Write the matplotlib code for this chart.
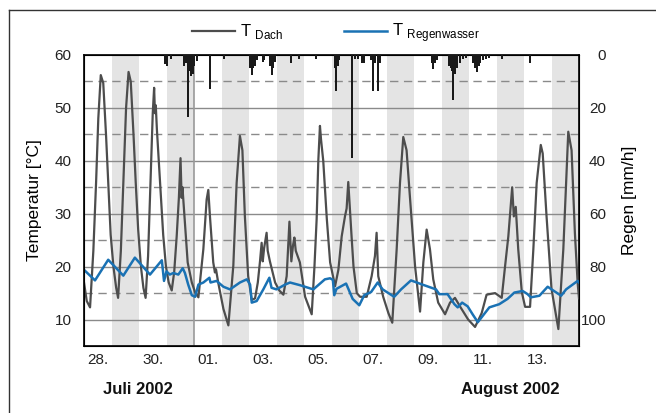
import matplotlib.pyplot as plt
from matplotlib.lines import Line2D
import matplotlib.transforms as mtransforms

plt.rcParams['font.family'] = ['Liberation Sans', 'DejaVu Sans']
plt.rcParams['mathtext.fontset'] = 'custom'
plt.rcParams['mathtext.rm'] = 'Liberation Sans'

# (Tag ab 28.07.2002 00:00, Temperatur Dach [°C])
dach = [(0.00, 17.0), (0.10, 13.5), (0.22, 12.3), (0.34, 23.0), (0.44, 36.0), (0.52, 48.0), (0.61, 56.2),
        (0.70, 54.7), (0.80, 45.0), (0.88, 36.0), (0.97, 26.0), (1.07, 20.0), (1.17, 16.0), (1.24, 14.1),
        (1.34, 23.0), (1.44, 37.0), (1.53, 50.0), (1.62, 56.8), (1.70, 55.0), (1.80, 45.0), (1.88, 36.0),
        (1.97, 27.0), (2.07, 20.0), (2.16, 16.0), (2.24, 14.1), (2.33, 22.0), (2.42, 36.0), (2.50, 49.0),
        (2.55, 53.8), (2.58, 49.0), (2.61, 50.5), (2.65, 46.0), (2.72, 40.0), (2.80, 33.0), (2.88, 26.0),
        (2.98, 20.0), (3.08, 17.0), (3.19, 15.5), (3.28, 19.0), (3.37, 25.7), (3.45, 33.0), (3.51, 40.5),
        (3.55, 33.0), (3.58, 35.0), (3.67, 28.2), (3.77, 20.8), (3.92, 17.0), (4.05, 15.0), (4.16, 14.2),
        (4.34, 23.3), (4.46, 32.7), (4.52, 34.5), (4.58, 29.5), (4.70, 20.8), (4.76, 18.9), (4.80, 19.5),
        (4.88, 17.0), (5.07, 12.0), (5.25, 8.9), (5.43, 20.2), (5.55, 35.8), (5.67, 44.7), (5.76, 42.0),
        (5.85, 29.5), (5.97, 18.2), (6.10, 13.7), (6.22, 14.0), (6.32, 17.0), (6.40, 21.0), (6.46, 24.5),
        (6.50, 21.0), (6.55, 23.5), (6.64, 26.4), (6.68, 23.0), (6.76, 21.0), (6.95, 17.0), (7.10, 15.5),
        (7.25, 14.7), (7.37, 18.2), (7.47, 28.5), (7.54, 21.0), (7.60, 24.0), (7.65, 25.5), (7.70, 23.0),
        (7.85, 20.8), (8.04, 14.3), (8.28, 11.0), (8.38, 20.0), (8.46, 29.0), (8.52, 40.0), (8.58, 46.6),
        (8.62, 44.0), (8.70, 40.0), (8.83, 29.0), (8.95, 20.8), (9.13, 16.3), (9.25, 19.4), (9.37, 25.7),
        (9.49, 29.5), (9.55, 31.0), (9.61, 36.0), (9.67, 30.7), (9.73, 25.7), (9.80, 20.0), (9.92, 15.0),
        (10.04, 14.3), (10.28, 14.3), (10.46, 18.2), (10.58, 22.0), (10.64, 26.4), (10.70, 18.2),
        (10.88, 14.3), (11.07, 11.2), (11.21, 9.4), (11.37, 23.3), (11.49, 35.8), (11.61, 44.5),
        (11.73, 42.0), (11.85, 33.3), (12.04, 20.0), (12.22, 11.5), (12.34, 20.8), (12.46, 27.0),
        (12.58, 23.3), (12.70, 17.6), (12.88, 13.2), (13.13, 11.0), (13.31, 13.2), (13.49, 14.1),
        (13.67, 12.5), (13.97, 10.0), (14.22, 8.6), (14.46, 11.2), (14.64, 14.7), (14.95, 15.0),
        (15.19, 14.1), (15.31, 20.0), (15.43, 25.7), (15.57, 35.0), (15.63, 29.5), (15.70, 31.3),
        (15.79, 23.3), (15.92, 15.2), (16.04, 12.4), (16.22, 12.4), (16.34, 23.3), (16.46, 35.8),
        (16.61, 43.0), (16.68, 41.4), (16.82, 29.5), (17.00, 15.8), (17.25, 8.2), (17.43, 23.3),
        (17.61, 45.5), (17.73, 42.0), (17.85, 26.4), (17.95, 17.0), (18.00, 14.0)]

# (Tag, Temperatur Regenwasser [°C])
regenwasser = [(0.00, 19.4), (0.40, 17.4), (0.88, 21.3), (1.43, 18.3), (1.85, 21.7), (2.40, 18.5),
               (2.83, 21.2), (2.91, 17.3), (3.00, 19.1), (3.12, 18.5), (3.25, 18.8), (3.43, 18.5),
               (3.59, 19.7), (3.67, 18.8), (3.79, 16.6), (3.92, 14.6), (4.04, 14.3), (4.16, 16.6),
               (4.34, 17.0), (4.56, 17.9), (4.60, 17.0), (4.82, 17.3), (5.07, 16.2), (5.31, 15.7),
               (5.67, 17.0), (5.92, 17.6), (6.04, 16.6), (6.10, 13.2), (6.28, 13.5), (6.52, 15.7),
               (6.74, 17.9), (6.82, 16.0), (7.00, 15.7), (7.31, 16.6), (7.49, 17.0), (7.85, 16.5),
               (8.34, 15.7), (8.76, 17.6), (8.95, 17.8), (9.05, 17.5), (9.10, 14.6), (9.18, 15.8),
               (9.53, 16.8), (9.77, 13.9), (10.01, 12.7), (10.19, 14.6), (10.44, 15.2), (10.68, 17.0),
               (10.86, 15.7), (11.28, 14.3), (11.53, 15.7), (11.89, 17.4), (12.31, 16.6), (12.80, 15.7),
               (12.92, 14.8), (13.22, 14.8), (13.47, 12.9), (13.59, 12.3), (13.75, 13.2), (13.95, 12.5),
               (14.13, 11.0), (14.32, 9.5), (14.50, 10.7), (14.74, 12.3), (15.10, 12.9), (15.40, 13.9),
               (15.65, 15.1), (15.95, 15.4), (16.13, 14.8), (16.25, 14.2), (16.56, 14.5), (16.86, 16.2),
               (17.35, 14.5), (17.53, 15.7), (17.95, 17.3), (18.00, 17.0)]

# (Tag, Regen [mm/h])
regen = [(2.95, 3.5), (2.98, 2.0), (3.02, 4.0), (3.16, 1.5), (3.64, 4.0), (3.71, 3.0), (3.79, 23.4),
         (3.84, 6.0), (3.89, 8.0), (3.95, 7.0), (4.00, 4.2), (4.10, 2.4), (4.58, 12.7), (5.09, 1.5),
         (6.04, 5.0), (6.10, 7.7), (6.15, 5.0), (6.22, 4.0), (6.29, 2.0), (6.51, 2.5), (6.56, 2.0),
         (6.76, 4.0), (6.83, 7.7), (6.87, 5.0), (6.93, 2.5), (7.53, 3.0), (7.82, 1.5), (8.43, 1.5),
         (9.11, 5.0), (9.15, 13.7), (9.22, 4.0), (9.27, 2.0), (9.76, 38.9), (9.84, 1.5), (9.96, 1.5),
         (10.11, 3.0), (10.18, 3.0), (10.44, 2.0), (10.52, 13.7), (10.58, 3.0), (10.70, 13.7),
         (10.76, 3.0), (12.65, 3.0), (12.70, 5.2), (12.76, 3.0), (12.84, 2.0), (13.27, 4.0),
         (13.33, 5.0), (13.38, 6.0), (13.43, 17.1), (13.49, 7.0), (13.56, 5.0), (13.67, 3.0),
         (13.78, 1.5), (13.89, 1.0), (14.15, 3.0), (14.22, 5.0), (14.28, 6.4), (14.35, 4.0),
         (14.40, 3.0), (14.51, 2.0), (14.62, 1.5), (14.73, 1.0), (15.20, 1.5), (16.22, 3.0)]

tick_labels = ['28.', '30.', '01.', '03.', '05.', '07.', '09.', '11.', '13.']

dach_t, dach_v = zip(*dach)
rw_t, rw_v = zip(*regenwasser)
rain_t, rain_v = zip(*regen)

fig = plt.figure(figsize=(6.56, 4.13), dpi=100)
ax = fig.add_axes([84 / 656, 1 - 346 / 413, 495 / 656, 291 / 413])

# graue Tagesstreifen
for d in range(1, 18, 2):
    ax.axvspan(d, d + 1, color='#e4e4e4', lw=0, zorder=0)

for y in range(10, 60, 10):
    ax.axhline(y, color='#8a8a8a', lw=1, zorder=1)
for y in range(15, 60, 10):
    ax.axhline(y, color='#8a8a8a', lw=1, dashes=(6, 4), zorder=1)
ax.axvline(4, color='#999999', lw=1.2, zorder=1)

ax.plot(dach_t, dach_v, color='#4d4d4d', lw=1.6, zorder=3, label=r'T $_{\rm Dach}$')
ax.plot(rw_t, rw_v, color='#1a72b4', lw=1.8, zorder=4, label=r'T $_{\rm Regenwasser}$')

ax.set_xlim(0, 18)
ax.set_ylim(5, 60)
ax.set_yticks(range(10, 61, 10))
ax.set_xticks([0.5 + 2 * i for i in range(len(tick_labels))])
ax.set_xticklabels(tick_labels)
ax.tick_params(axis='both', length=0, labelsize=11, colors='#222222')
ax.tick_params(axis='y', pad=9)
ax.tick_params(axis='x', pad=5)
for s in ax.spines.values():
    s.set_color('#111111')
    s.set_linewidth(1.3)

ax.set_ylabel('Temperatur [°C]', fontsize=12.5)
ax.yaxis.set_label_coords(-0.085, 0.5)

ax2 = ax.twinx()
ax2.bar(rain_t, rain_v, width=0.07, color='#1a1a1a', zorder=5)
ax2.set_ylim(110, 0)
ax2.set_yticks(range(0, 101, 20))
ax2.tick_params(axis='y', length=0, labelsize=11, colors='#222222', pad=19.5)
for lbl in ax2.get_yticklabels():
    lbl.set_horizontalalignment('right')
ax2.set_ylabel('Regen [mm/h]', fontsize=12.5)
ax2.yaxis.set_label_coords(1.086, 0.5)

trans = mtransforms.blended_transform_factory(ax.transData, ax.transAxes)
ax.text(1.96, -0.151, 'Juli 2002', transform=trans, ha='center', va='center',
        fontsize=12, fontweight='bold', color='#111111')
ax.text(15.5, -0.151, 'August 2002', transform=trans, ha='center', va='center',
        fontsize=12, fontweight='bold', color='#111111')

fig.legend(loc='center left', bbox_to_anchor=(177 / 656, 1 - 33 / 413), ncol=2, frameon=False,
           fontsize=12, handlelength=2.6, columnspacing=3.6, handletextpad=0.3)

# Rahmen
fig.add_artist(Line2D([9 / 656, 9 / 656], [0, 1 - 10 / 413], color='#333333', lw=1))
fig.add_artist(Line2D([9 / 656, 1], [1 - 10 / 413, 1 - 10 / 413], color='#333333', lw=1))

fig.savefig('out.png', dpi=100)
